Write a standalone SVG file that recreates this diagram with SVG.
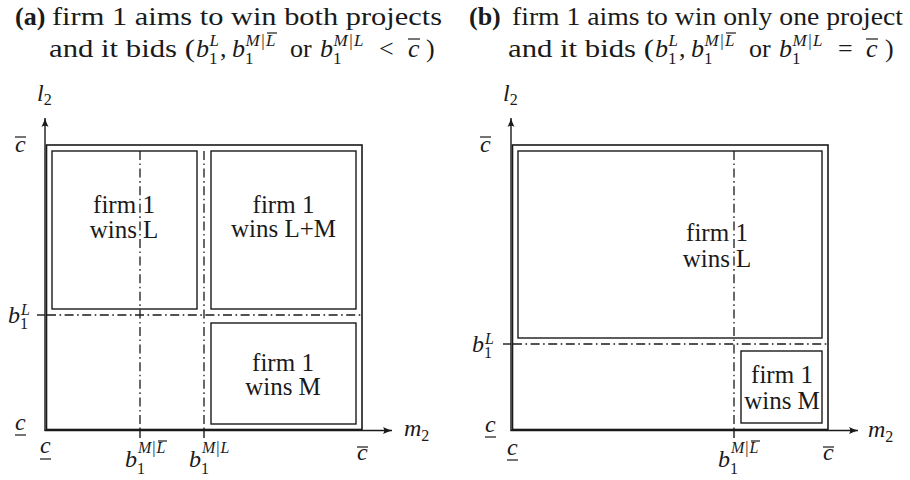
<svg xmlns="http://www.w3.org/2000/svg" width="910" height="480" viewBox="0 0 910 480">
<style>
text{font-family:"Liberation Serif","Times New Roman",serif;fill:#1a1a1a}
.t{font-size:26px}
.b{font-weight:bold}
.m{font-size:24px;font-style:italic}
.s{font-size:16px}
.ss{font-size:17px}
.i{font-style:italic}
.n{font-style:normal}
.lab{font-size:25px;text-anchor:middle}
.box{fill:none;stroke:#1a1a1a;stroke-width:1.6}
.inner{fill:none;stroke:#1a1a1a;stroke-width:1.4}
.ax{fill:none;stroke:#1a1a1a;stroke-width:1.4}
.dd{fill:none;stroke:#1a1a1a;stroke-width:1.3;stroke-dasharray:9 3.5 1.6 3.5}
.bar{stroke:#1a1a1a;stroke-width:1.2}
</style>
<defs>
<marker id="arr" markerWidth="10" markerHeight="8" refX="9" refY="4" orient="auto" markerUnits="userSpaceOnUse">
<path d="M0,0.5 Q5,3 9,4 Q5,5 0,7.5 Q2.5,4 0,0.5 z" fill="#1a1a1a"/>
</marker>
</defs>

<!-- titles -->
<g id="title-a">
<text class="t b" x="15" y="25">(a)</text>
<text class="t" x="52" y="25" textLength="390" lengthAdjust="spacingAndGlyphs">firm 1 aims to win both projects</text>
<text class="t" x="49" y="57" textLength="146" lengthAdjust="spacingAndGlyphs">and it bids (</text>
<text class="t i" x="196" y="57">b<tspan class="ss n" dy="7">1</tspan><tspan class="ss" dx="-8" dy="-18">L</tspan></text>
<text class="t" x="220" y="57">,</text>
<text class="t i" x="232" y="57">b<tspan class="ss n" dy="7">1</tspan><tspan class="ss" dx="-8" dy="-18">M</tspan><tspan class="ss n" dx="1.5">|</tspan><tspan class="ss" dx="1.5">L</tspan></text>
<line class="bar" x1="267" y1="33" x2="277" y2="33"/>
<text class="t" x="290" y="57">or</text>
<text class="t i" x="320" y="57">b<tspan class="ss n" dy="7">1</tspan><tspan class="ss" dx="-8" dy="-18">M</tspan><tspan class="ss n" dx="1.5">|</tspan><tspan class="ss" dx="1.5">L</tspan></text>
<text class="t" x="379" y="57">&lt;</text>
<text class="t i" x="408" y="57">c</text><line class="bar" x1="408" y1="39" x2="420" y2="39"/>
<text class="t" x="426" y="57">)</text>
</g>
<g id="title-b">
<text class="t b" x="469" y="25">(b)</text>
<text class="t" x="512" y="25" textLength="391" lengthAdjust="spacingAndGlyphs">firm 1 aims to win only one project</text>
<text class="t" x="508" y="57" textLength="146" lengthAdjust="spacingAndGlyphs">and it bids (</text>
<text class="t i" x="655" y="57">b<tspan class="ss n" dy="7">1</tspan><tspan class="ss" dx="-8" dy="-18">L</tspan></text>
<text class="t" x="679" y="57">,</text>
<text class="t i" x="691" y="57">b<tspan class="ss n" dy="7">1</tspan><tspan class="ss" dx="-8" dy="-18">M</tspan><tspan class="ss n" dx="1.5">|</tspan><tspan class="ss" dx="1.5">L</tspan></text>
<line class="bar" x1="726" y1="33" x2="736" y2="33"/>
<text class="t" x="749" y="57">or</text>
<text class="t i" x="779" y="57">b<tspan class="ss n" dy="7">1</tspan><tspan class="ss" dx="-8" dy="-18">M</tspan><tspan class="ss n" dx="1.5">|</tspan><tspan class="ss" dx="1.5">L</tspan></text>
<text class="t" x="838" y="57">=</text>
<text class="t i" x="866" y="57">c</text><line class="bar" x1="866" y1="39" x2="878" y2="39"/>
<text class="t" x="885" y="57">)</text>
</g>

<!-- connectors: axes, outer regions, dash-dot threshold lines -->
<g id="connectors">
<rect class="box" x="46.5" y="145" width="315.5" height="284.5"/>
<line class="ax" x1="45" y1="431" x2="45" y2="118" marker-end="url(#arr)"/>
<line class="ax" x1="44.5" y1="430.5" x2="392" y2="430.5" marker-end="url(#arr)"/>
<line class="dd" x1="140" y1="151" x2="140" y2="430"/>
<line class="dd" x1="204" y1="151" x2="204" y2="430"/>
<line class="dd" x1="47" y1="315" x2="362" y2="315"/>
<line class="ax" x1="140" y1="430" x2="140" y2="438"/>
<line class="ax" x1="204" y1="430" x2="204" y2="438"/>
<line class="ax" x1="37" y1="315" x2="45" y2="315"/>

<rect class="box" x="512.5" y="145" width="315.5" height="284.5"/>
<line class="ax" x1="511" y1="431" x2="511" y2="118" marker-end="url(#arr)"/>
<line class="ax" x1="510.5" y1="430.5" x2="858" y2="430.5" marker-end="url(#arr)"/>
<line class="dd" x1="734" y1="151" x2="734" y2="430"/>
<line class="dd" x1="513" y1="344" x2="828" y2="344"/>
<line class="ax" x1="734" y1="430" x2="734" y2="438"/>
<line class="ax" x1="503" y1="344" x2="511" y2="344"/>
</g>

<!-- nodes panel a -->
<g id="a-wins-L">
<rect class="inner" x="52" y="151" width="145" height="158"/>
<text class="lab" x="124" y="213">firm 1</text>
<text class="lab" x="124" y="238">wins L</text>
</g>
<g id="a-wins-LM">
<rect class="inner" x="211" y="151" width="145" height="158"/>
<text class="lab" x="283.5" y="213">firm 1</text>
<text class="lab" x="283.5" y="237">wins L+M</text>
</g>
<g id="a-wins-M">
<rect class="inner" x="211" y="323" width="145" height="101"/>
<text class="lab" x="283" y="371">firm 1</text>
<text class="lab" x="283" y="395">wins M</text>
</g>

<!-- nodes panel b -->
<g id="b-wins-L">
<rect class="inner" x="518" y="151" width="304" height="187"/>
<text class="lab" x="717" y="241">firm 1</text>
<text class="lab" x="717" y="267">wins L</text>
</g>
<g id="b-wins-M">
<rect class="inner" x="741" y="351" width="81" height="72"/>
<text class="lab" x="782" y="383">firm 1</text>
<text class="lab" x="782" y="409">wins M</text>
</g>

<!-- axis labels panel a -->
<g id="a-labels">
<text class="m" x="37" y="101">l<tspan class="s n" dy="4">2</tspan></text>
<text class="m" x="15" y="152">c</text><line class="bar" x1="15" y1="137" x2="26" y2="137"/>
<text class="m" x="8" y="323">b<tspan class="s n" dy="6">1</tspan><tspan class="s" dx="-7" dy="-14">L</tspan></text>
<text class="m" x="15" y="430">c</text><line class="bar" x1="15" y1="435" x2="26" y2="435"/>
<text class="m" x="40" y="453">c</text><line class="bar" x1="40" y1="459" x2="51" y2="459"/>
<text class="m" x="125" y="467">b<tspan class="s n" dy="7">1</tspan><tspan class="s" dx="-7" dy="-21">M</tspan><tspan class="s n" dx="1">|</tspan><tspan class="s" dx="1">L</tspan></text>
<line class="bar" x1="158" y1="441" x2="167" y2="441"/>
<text class="m" x="189" y="467">b<tspan class="s n" dy="7">1</tspan><tspan class="s" dx="-7" dy="-21">M</tspan><tspan class="s n" dx="1">|</tspan><tspan class="s" dx="1">L</tspan></text>
<text class="m" x="357" y="460">c</text><line class="bar" x1="357" y1="447" x2="368" y2="447"/>
<text class="m" x="404" y="436">m<tspan class="s n" dy="5">2</tspan></text>
</g>

<!-- axis labels panel b -->
<g id="b-labels">
<text class="m" x="503" y="101">l<tspan class="s n" dy="4">2</tspan></text>
<text class="m" x="480" y="152">c</text><line class="bar" x1="480" y1="137" x2="491" y2="137"/>
<text class="m" x="472" y="352">b<tspan class="s n" dy="6">1</tspan><tspan class="s" dx="-7" dy="-14">L</tspan></text>
<text class="m" x="485" y="432">c</text><line class="bar" x1="485" y1="437" x2="496" y2="437"/>
<text class="m" x="507" y="455">c</text><line class="bar" x1="507" y1="460" x2="518" y2="460"/>
<text class="m" x="718" y="467">b<tspan class="s n" dy="7">1</tspan><tspan class="s" dx="-7" dy="-21">M</tspan><tspan class="s n" dx="1">|</tspan><tspan class="s" dx="1">L</tspan></text>
<line class="bar" x1="751" y1="441" x2="760" y2="441"/>
<text class="m" x="823" y="460">c</text><line class="bar" x1="823" y1="447" x2="834" y2="447"/>
<text class="m" x="868" y="437">m<tspan class="s n" dy="5">2</tspan></text>
</g>
</svg>
